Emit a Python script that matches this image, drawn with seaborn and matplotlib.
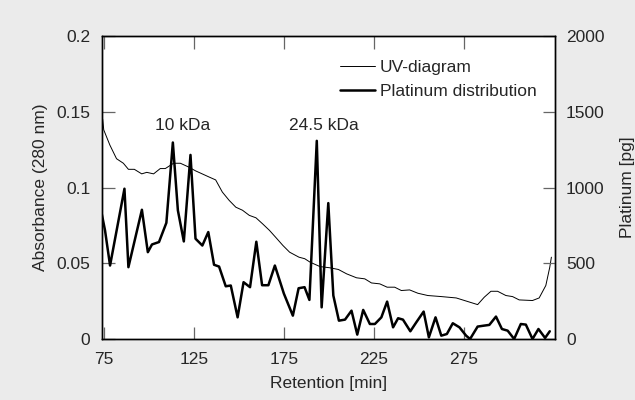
import numpy as np
import pandas as pd
import matplotlib
matplotlib.use("Agg")
import matplotlib.pyplot as plt
import seaborn as sns

# UV absorbance trace (left axis)
uv_time = [73.7, 74.3, 74.9, 78.3, 82.0, 85.8, 88.6, 91.9, 96.0, 98.8, 102.6, 106.3, 109.1,
           113.7, 117.5, 122.1, 125.9, 129.6, 133.3, 137.1, 140.8, 144.6, 148.3, 152.0,
           155.8, 159.5, 163.2, 167.0, 170.7, 174.5, 178.2, 183.4, 186.6, 189.6, 195.1,
           200.6, 205.3, 209.9, 215.4, 220.0, 223.7, 228.3, 232.4, 236.6, 240.3, 244.9,
           249.5, 255.0, 262.5, 270.8, 275.4, 282.7, 286.4, 290.1, 293.8, 298.4, 302.1,
           305.8, 313.2, 316.9, 320.6, 322.8, 323.7]
uv_abs = [0.1465, 0.145, 0.138, 0.128, 0.119, 0.116, 0.112, 0.112, 0.109, 0.110, 0.109, 0.1125,
          0.1125, 0.116, 0.116, 0.1135, 0.111, 0.109, 0.107, 0.105, 0.097, 0.0915, 0.087,
          0.085, 0.0816, 0.080, 0.076, 0.0717, 0.0668, 0.0617, 0.0573, 0.054, 0.053,
          0.0507, 0.0478, 0.047, 0.0459, 0.043, 0.0404, 0.0397, 0.037, 0.0364, 0.0342,
          0.0342, 0.032, 0.0324, 0.0302, 0.0287, 0.028, 0.0271, 0.0254, 0.0227, 0.0276,
          0.0315, 0.0315, 0.0287, 0.028, 0.0258, 0.0254, 0.0271, 0.0353, 0.0474, 0.054]

# platinum distribution (right axis, pg)
pt_time = [73.7, 75.6, 78.4, 86.4, 88.6, 96.1, 99.4, 101.7, 105.6, 109.7, 113.3, 116.1,
           119.4, 123.1, 125.9, 129.7, 133.0, 136.2, 139.0, 142.7, 145.5, 149.3, 152.6,
           156.2, 159.7, 162.9, 166.4, 170.0, 175.0, 180.0, 183.2, 186.5, 189.2, 193.3,
           196.0, 199.7, 202.5, 205.6, 209.0, 212.6, 215.8, 219.1, 222.8, 225.6, 229.2,
           232.4, 235.7, 238.5, 241.2, 245.3, 248.6, 252.7, 255.6, 259.3, 262.5, 265.6,
           268.9, 272.6, 276.3, 278.5, 282.7, 286.1, 289.2, 292.9, 296.2, 299.4, 303.0,
           306.7, 309.5, 313.2, 316.5, 320.2, 322.8]
pt_pg = [831, 717, 485, 992, 474, 853, 573, 624, 640, 767, 1297, 849, 644, 1215, 662, 617,
         706, 490, 478, 348, 353, 143, 375, 342, 642, 355, 355, 485, 300, 154, 335, 342,
         258, 1308, 209, 897, 287, 121, 128, 187, 29, 192, 99, 99, 143, 247, 77, 137, 128,
         51, 110, 181, 11, 143, 22, 33, 104, 77, 22, 0, 82, 88, 93, 148, 66, 55, 0, 99, 95,
         0, 66, 7, 51]

x_ticks = [75, 125, 175, 225, 275]
left_ticks = [0, 0.05, 0.1, 0.15, 0.2]
left_labels = ["0", "0.05", "0.1", "0.15", "0.2"]
right_ticks = [0, 500, 1000, 1500, 2000]

sns.set_style("ticks")
plt.rcParams['font.family'] = ['Liberation Sans', 'DejaVu Sans']
fs = 12.5

fig = plt.figure(figsize=(6.35, 4.0), dpi=100, facecolor="#ebebeb")
ax = fig.add_axes([0.16, 0.1525, 0.714, 0.7575])
ax2 = ax.twinx()

uv = pd.DataFrame({"time": uv_time, "value": uv_abs})
pt = pd.DataFrame({"time": pt_time, "value": pt_pg})

sns.lineplot(data=uv, x="time", y="value", ax=ax, color="black", linewidth=0.7,
             label="UV-diagram", legend=False)
sns.lineplot(data=pt, x="time", y="value", ax=ax2, color="black", linewidth=1.8,
             label="Platinum distribution", legend=False)

ax.set_xlim(73.7, 325.7)
ax.set_ylim(0, 0.2)
ax2.set_ylim(0, 2000)
ax.set_xticks(x_ticks)
ax.set_yticks(left_ticks)
ax.set_yticklabels(left_labels)
ax2.set_yticks(right_ticks)

ax.tick_params(axis="both", direction="in", length=9, width=0.9, labelsize=fs,
               top=True, color="#666666")
ax2.tick_params(axis="y", direction="in", length=9, width=0.9, labelsize=fs,
                color="#666666")
ax.tick_params(axis="x", pad=9)
ax.tick_params(axis="y", pad=8)
ax2.tick_params(axis="y", pad=8)

for a in (ax, ax2):
    for s in a.spines.values():
        s.set_linewidth(1.0)
        s.set_color("black")

ax.set_xlabel("Retention [min]", fontsize=fs, labelpad=7)
ax.set_ylabel("Absorbance (280 nm)", fontsize=fs, labelpad=6)
ax2.set_ylabel("Platinum [pg]", fontsize=fs, labelpad=11)

ax.text(119, 0.141, "10 kDa", ha="center", va="center", fontsize=fs)
ax.text(197, 0.141, "24.5 kDa", ha="center", va="center", fontsize=fs)

h1, l1 = ax.get_legend_handles_labels()
h2, l2 = ax2.get_legend_handles_labels()
ax2.legend(h1 + h2, l1 + l2, loc="upper right", frameon=False, fontsize=fs,
           handlelength=2.0, handletextpad=0.3, labelspacing=0.5,
           borderaxespad=0, bbox_to_anchor=(0.975, 0.945))

fig.savefig("out.png", dpi=100, facecolor=fig.get_facecolor())
